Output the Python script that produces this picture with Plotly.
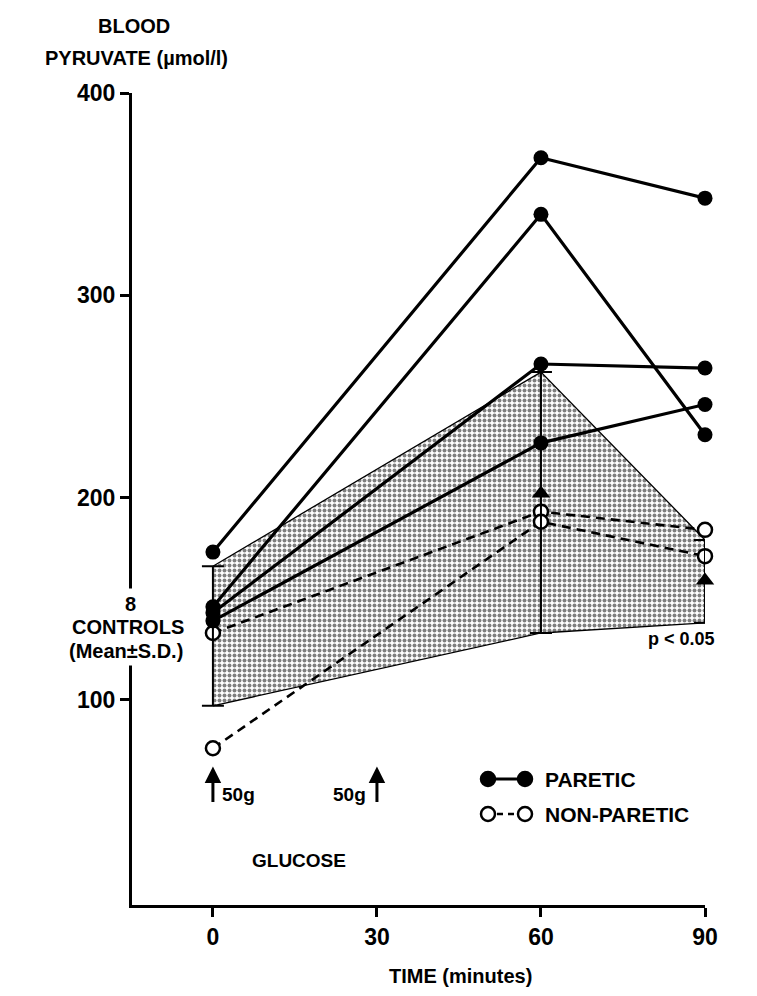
import plotly.graph_objects as go

# ---------------- data ----------------
time_points = [0, 60, 90]

paretic_1 = [173, 368, 348]
paretic_2 = [146, 340, 231]
paretic_3 = [143, 266, 264]
paretic_4 = [139, 227, 246]

non_paretic_1 = [133, 193, 184]
non_paretic_2 = [76, 188, 171]

control_mean = [131, 202, 159]
control_upper = [166, 262, 179]
control_lower = [97, 133, 138]

x_ticks = [0, 30, 60, 90]
y_ticks = [100, 200, 300, 400]

glucose_times = [0, 30]
glucose_labels = ["50g", "50g"]

# ---------------- layout geometry ----------------
W, H = 757, 996
L, R, T, B = 124, 60, 85, 99
PW, PH = W - L - R, H - T - B
FONT = "Liberation Sans, Arial, sans-serif"


def pxx(x):
    return (x - L) / PW


def pxy(y):
    return (H - B - y) / PH


fig = go.Figure()

# shaded control band (mean ± SD)
fig.add_trace(go.Scatter(
    x=time_points + time_points[::-1],
    y=control_upper + control_lower[::-1],
    mode="lines", fill="toself",
    fillcolor="rgba(0,0,0,0)",
    fillpattern=dict(shape=".", fgcolor="black", bgcolor="white", size=5, solidity=0.5),
    line=dict(color="black", width=1.3),
    hoverinfo="skip", showlegend=False,
))

# non-paretic (open circles, dashed)
for series in [non_paretic_1, non_paretic_2]:
    fig.add_trace(go.Scatter(
        x=time_points, y=series, mode="lines+markers", cliponaxis=False,
        line=dict(color="black", width=2.6, dash="9px,6px"),
        marker=dict(symbol="circle", size=14, color="white",
                    line=dict(color="black", width=2.5)),
        showlegend=False,
    ))

# control mean with SD error bars
fig.add_trace(go.Scatter(
    x=time_points, y=control_mean, mode="markers", cliponaxis=False,
    marker=dict(symbol="triangle-up", size=[0, 16, 16], color="black", opacity=1,
                line=dict(color="black", width=0)),
    error_y=dict(type="data", symmetric=False,
                 array=[u - m for u, m in zip(control_upper, control_mean)],
                 arrayminus=[m - l for m, l in zip(control_mean, control_lower)],
                 color="black", thickness=2, width=11),
    showlegend=False,
))

# paretic (filled circles, solid)
for series in [paretic_1, paretic_2, paretic_3, paretic_4]:
    fig.add_trace(go.Scatter(
        x=time_points, y=series, mode="lines+markers", cliponaxis=False,
        line=dict(color="black", width=3.2),
        marker=dict(symbol="circle", size=15, color="black"),
        showlegend=False,
    ))

annotations = []


def text(s, x, y, size=19, xanchor="center", **kw):
    annotations.append(dict(text=s, x=pxx(x), y=pxy(y), xref="paper", yref="paper",
                            xanchor=xanchor, yanchor="middle", showarrow=False,
                            font=dict(family=FONT, size=size, color="black", weight=700), **kw))


text("BLOOD", 126, 18, size=20)
text("PYRUVATE (µmol/l)", 128, 50, size=20)
text("8", 122, 596, size=20, bgcolor="white", borderpad=4)
text("CONTROLS", 120, 619, size=20, bgcolor="white", borderpad=2)
text("(Mean±S.D.)", 118, 643, size=20, bgcolor="white", borderpad=3)
text("p < 0.05", 673, 631, size=18)
text("GLUCOSE", 291, 852, size=19)
text("TIME (minutes)", 452, 968, size=20)
text("PARETIC", 535, 771, xanchor="left", size=21)
text("NON-PARETIC", 535, 806, xanchor="left", size=21)

# glucose dose arrows
for t, lab, side in zip(glucose_times, glucose_labels, ["right", "left"]):
    annotations.append(dict(x=t, y=67, xref="x", yref="y", ax=0, ay=37,
                            text="", showarrow=True, arrowhead=2, arrowsize=1.1,
                            arrowwidth=3, arrowcolor="black"))
    annotations.append(dict(x=t, y=53, xref="x", yref="y", text=lab, showarrow=False,
                            xanchor="left" if side == "right" else "right",
                            xshift=7 if side == "right" else -9,
                            font=dict(family=FONT, size=19, color="black", weight=700)))

# legend symbols as shapes
shapes = []
r = 7
for (cx, cy, filled) in [(480, 771, True), (517, 771, True), (480, 806, False), (517, 806, False)]:
    shapes.append(dict(type="circle", xref="paper", yref="paper",
                       x0=pxx(cx - r), x1=pxx(cx + r), y0=pxy(cy + r), y1=pxy(cy - r),
                       fillcolor="black" if filled else "white",
                       line=dict(color="black", width=2.5)))
shapes.append(dict(type="line", xref="paper", yref="paper", x0=pxx(487), x1=pxx(510),
                   y0=pxy(771), y1=pxy(771), line=dict(color="black", width=3)))
shapes.append(dict(type="line", xref="paper", yref="paper", x0=pxx(489), x1=pxx(509),
                   y0=pxy(806), y1=pxy(806), line=dict(color="black", width=2.5, dash="6px,5px")))

fig.update_layout(
    width=W, height=H,
    margin=dict(l=L, r=R, t=T, b=B, pad=0),
    paper_bgcolor="white", plot_bgcolor="white",
    showlegend=False,
    annotations=annotations, shapes=shapes,
    font=dict(family=FONT, color="black"),
    xaxis=dict(range=[-14.8, 90], tickvals=x_ticks, ticks="outside", ticklen=9, tickwidth=2.5,
               tickcolor="black", showline=True, linewidth=3, linecolor="black",
               showgrid=False, zeroline=False,
               tickfont=dict(family=FONT, size=23, color="black", weight=700)),
    yaxis=dict(range=[-1.5, 400], tickvals=y_ticks, ticks="outside", ticklen=9, tickwidth=2.5,
               tickcolor="black", showline=True, linewidth=3, linecolor="black",
               showgrid=False, zeroline=False,
               tickfont=dict(family=FONT, size=23, color="black", weight=700)),
)

fig.write_html("out.html")
